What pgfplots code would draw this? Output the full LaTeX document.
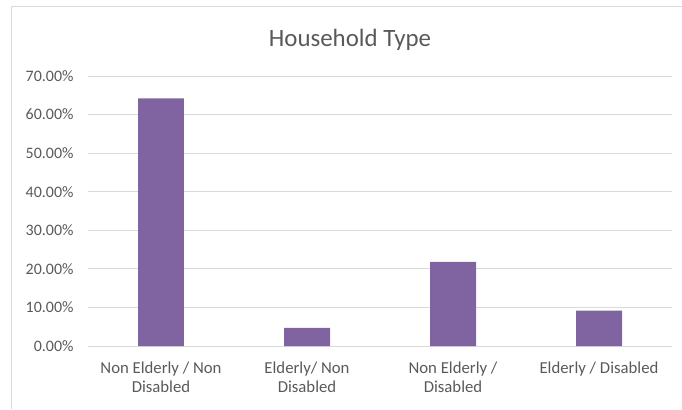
\documentclass[border=0pt]{standalone}
\usepackage{pgfplots}
\pgfplotsset{compat=1.18}
\usepackage{fontspec}
\setmainfont{Carlito}
\definecolor{barc}{HTML}{8064A2}
\definecolor{gridc}{HTML}{D9D9D9}
\definecolor{txt}{HTML}{595959}
\begin{document}
\begin{tikzpicture}[x=1bp,y=1bp]
\useasboundingbox (0,0) rectangle (682,409);
\draw[gridc, line width=1bp] (682,402.5) -- (11,402.5) -- (11,0);
\node[txt, font=\fontsize{25}{28}\selectfont, anchor=base] at (350,363) {Household Type};
\begin{axis}[at={(88bp,63bp)}, anchor=south west, width=584bp, height=270bp, scale only axis,
  ybar, bar width=0.315,
  xmin=-0.5, xmax=3.5, ymin=0, ymax=70,
  xtick={0,1,2,3},
  xticklabels={{Non Elderly / Non\\Disabled},{Elderly/ Non\\Disabled},{Non Elderly /\\Disabled},{Elderly / Disabled}},
  ytick={0,10,...,70},
  yticklabel={\pgfmathprintnumber[fixed,fixed zerofill,precision=2]{\tick}\%},
  /pgf/number format/assume math mode=true,
  ymajorgrids, grid style={gridc, line width=0.8bp},
  axis lines*=left,
  y axis line style={draw=none},
  x axis line style={gridc, line width=0.8bp, -},
  major tick length=0pt,
  yticklabel style={txt, font=\fontsize{16}{19}\selectfont, xshift=-11bp},
  xticklabel style={txt, font=\fontsize{16.8}{19.5}\selectfont, align=center, yshift=-12bp},
  clip=false,
]
\addplot[fill=barc, draw=none] coordinates {(0,64.2) (1,4.7) (2,21.8) (3,9.2)};
\end{axis}
\end{tikzpicture}
\end{document}
